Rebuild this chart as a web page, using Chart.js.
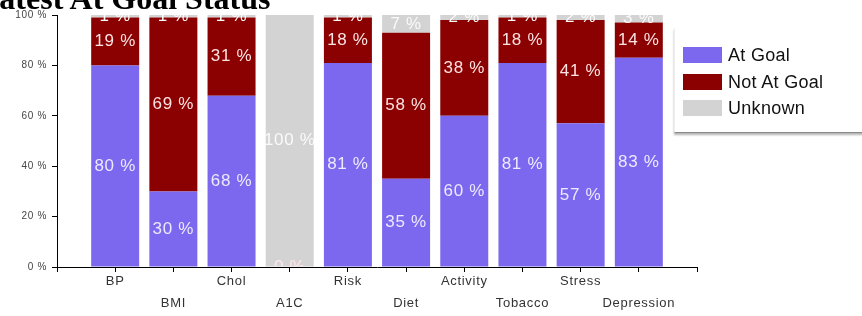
<!DOCTYPE html>
<html><head><meta charset="utf-8">
<script src="https://cdn.jsdelivr.net/npm/chart.js@4.4.1/dist/chart.umd.min.js"></script>
<style>
html,body{margin:0;padding:0;background:#fff;overflow:hidden;}
#wrap{position:relative;width:862px;height:316px;overflow:hidden;background:#fff;}
#c{position:absolute;left:0;top:0;}
#title{position:absolute;left:-22px;top:-18px;font:bold 32px 'Liberation Serif','Times New Roman',serif;line-height:32px;color:#000;white-space:nowrap;}
#legend{position:absolute;left:674px;top:28px;width:200px;height:104px;background:#fff;border-left:1px solid #eee;border-bottom:1px solid #8a8a8a;box-shadow:0 2px 2px rgba(0,0,0,0.3);}
.item{position:absolute;left:8px;height:16px;font:18px 'Liberation Sans',Arial,sans-serif;letter-spacing:0.3px;color:#111;display:flex;align-items:center;white-space:nowrap;}
.sw{width:39px;height:16px;margin-right:6px;flex:none;}
</style></head>
<body><div id="wrap"><canvas id="c" width="862" height="316"></canvas><div id="title">Latest At Goal Status</div><div id="legend"></div></div>
<script>
const categories = ['BP','BMI','Chol','A1C','Risk','Diet','Activity','Tobacco','Stress','Depression'];
const atGoal    = [80, 30, 68, 0, 81, 35, 60, 81, 57, 83];
const notAtGoal = [19, 69, 31, 0, 18, 58, 38, 18, 41, 14];
const unknown   = [1, 1, 1, 100, 1, 7, 2, 1, 2, 3];
const seriesNames = ['At Goal', 'Not At Goal', 'Unknown'];
const yTickValues = [0, 20, 40, 60, 80, 100];

// one empty slot on each side of the categories, as in the original axis
const pad = arr => [null, ...arr, null];
const labels = ['', ...categories, ''];

const letterSpacing = {
  id: 'letterSpacing',
  beforeDraw(chart) { chart.ctx.letterSpacing = '0.7px'; }
};

const valueLabels = {
  id: 'valueLabels',
  afterDatasetsDraw(chart) {
    const ctx = chart.ctx, a = chart.chartArea;
    ctx.save();
    ctx.beginPath();
    ctx.rect(a.left, a.top, a.right - a.left, a.bottom - a.top);
    ctx.clip();
    ctx.font = '17px "Liberation Sans", Arial, sans-serif';
    ctx.textAlign = 'center';
    ctx.textBaseline = 'middle';
    chart.data.datasets.forEach((ds, di) => {
      const meta = chart.getDatasetMeta(di);
      meta.data.forEach((el, i) => {
        const v = ds.data[i];
        if (v === null || v === undefined) return;
        ctx.fillStyle = ds.labelColor;
        ctx.fillText(v + ' %', el.x, (el.y + el.base) / 2);
      });
    });
    ctx.restore();
  }
};

const colors = ['#7B68EE', '#8B0000', '#D3D3D3'];
const labelColors = ['#ECEAFF', '#FBE3E3', '#FAFAFA'];
const series = [atGoal, notAtGoal, unknown];

const chart = new Chart(document.getElementById('c'), {
  type: 'bar',
  data: {
    labels: labels,
    datasets: series.map((s, i) => ({
      label: seriesNames[i],
      data: pad(s),
      backgroundColor: colors[i],
      borderWidth: 0,
      labelColor: labelColors[i],
      categoryPercentage: 1,
      barPercentage: 0.825
    }))
  },
  options: {
    responsive: false,
    animation: false,
    devicePixelRatio: 1,
    layout: { padding: { top: 15, right: 165, left: 0, bottom: 0 } },
    plugins: { legend: { display: false }, tooltip: { enabled: false }, title: { display: false } },
    scales: {
      x: {
        stacked: true,
        offset: false,
        grid: { drawOnChartArea: false, offset: false, drawTicks: true, tickLength: 5, tickColor: '#000' },
        border: { color: '#000', width: 1 },
        ticks: {
          autoSkip: false, maxRotation: 0, minRotation: 0, padding: -2,
          color: '#333',
          font: { family: '"Liberation Sans", Arial, sans-serif', size: 13, lineHeight: '22px' },
          callback: function(val, idx) {
            const name = labels[idx];
            if (!name) return '';
            return (idx % 2 === 1) ? name : ['', name];
          }
        },
        afterFit: s => { s.height = 49; }
      },
      y: {
        stacked: true,
        min: 0, max: 100,
        afterBuildTicks: s => { s.ticks = yTickValues.map(v => ({ value: v })); },
        grid: { drawOnChartArea: false, drawTicks: true, tickLength: 5, tickColor: '#000' },
        border: { color: '#000', width: 1 },
        ticks: {
          padding: 5,
          color: '#444',
          font: { family: '"Liberation Sans", Arial, sans-serif', size: 10 },
          callback: v => v + ' %'
        },
        afterFit: s => { s.width = 57; }
      }
    }
  },
  plugins: [letterSpacing, valueLabels]
});

// legend built from the chart's datasets
const legend = document.getElementById('legend');
const tops = [19, 46, 72];
chart.data.datasets.forEach((ds, i) => {
  const it = document.createElement('div');
  it.className = 'item';
  it.style.top = tops[i] + 'px';
  const sw = document.createElement('span');
  sw.className = 'sw';
  sw.style.background = ds.backgroundColor;
  const tx = document.createElement('span');
  tx.textContent = ds.label;
  it.appendChild(sw); it.appendChild(tx);
  legend.appendChild(it);
});
</script>
</body></html>
